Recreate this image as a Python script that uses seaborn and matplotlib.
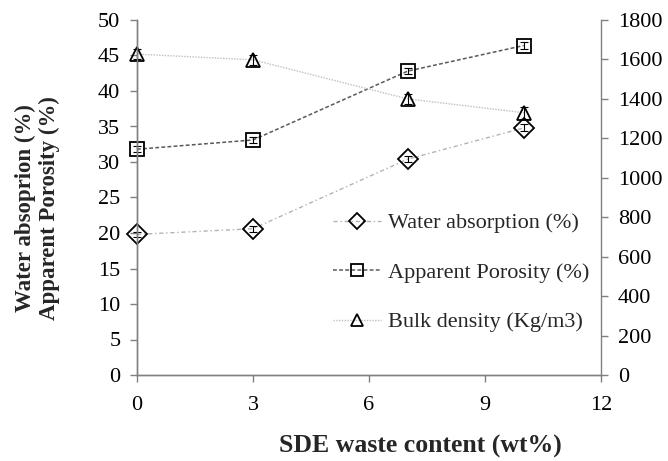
import matplotlib
matplotlib.use("Agg")
import matplotlib.pyplot as plt
import numpy as np
import seaborn as sns

# Datos
contenido = [0, 3, 7, 10]
absorcion = [19.8, 20.6, 30.4, 34.8]
absorcion_err = [0.4, 0.4, 0.4, 0.5]
porosidad = [31.8, 33.1, 42.8, 46.4]
porosidad_err = [0.4, 0.4, 0.4, 0.5]
densidad = [1627, 1598, 1400, 1330]
densidad_err = [25, 25, 25, 30]

etiquetas = ["Water absorption (%)", "Apparent Porosity (%)", "Bulk density (Kg/m3)"]

sns.set_style("ticks")
plt.rcParams['font.family'] = ['Liberation Serif', 'DejaVu Serif']

fig, ax = plt.subplots(figsize=(6.68, 4.61), dpi=100)
fig.subplots_adjust(left=137/668, right=601/668, top=1-20/461, bottom=1-375/461)
ax2 = ax.twinx()

marcadores = dict(markerfacecolor='none', markeredgecolor='black',
                  markeredgewidth=1.3, markersize=10, clip_on=False)

sns.lineplot(x=contenido, y=absorcion, ax=ax, color='0.7', linestyle=(0, (3, 2, 1, 2)),
             linewidth=1, marker='D', label=etiquetas[0], **marcadores)
sns.lineplot(x=contenido, y=porosidad, ax=ax, color='0.35', linestyle=(0, (2.5, 1.5)),
             linewidth=1.1, marker='s', label=etiquetas[1], **marcadores)
sns.lineplot(x=contenido, y=densidad, ax=ax2, color='0.75', linestyle=(0, (1, 1)),
             linewidth=1, marker='^', label=etiquetas[2], **marcadores)

for eje, y, err in ((ax, absorcion, absorcion_err), (ax, porosidad, porosidad_err),
                    (ax2, densidad, densidad_err)):
    eje.errorbar(contenido, y, yerr=err, fmt='none', ecolor='black',
                 elinewidth=0.8, capsize=3, capthick=0.8, clip_on=False)

ax.set_xlim(0, 12)
ax.set_xticks([0, 3, 6, 9, 12])
ax.set_ylim(0, 50)
ax.set_yticks(np.arange(0, 51, 5))
ax2.set_ylim(0, 1800)
ax2.set_yticks(np.arange(0, 1801, 200))

for eje in (ax, ax2):
    eje.spines['top'].set_visible(False)
    for s in ('left', 'right', 'bottom'):
        eje.spines[s].set_color('0.5')
        eje.spines[s].set_linewidth(1)
    eje.tick_params(colors='0.5', labelcolor='black', labelsize=16, length=5, width=1, pad=7)
ax.spines['right'].set_visible(False)
ax.tick_params(axis='x', pad=10)

ax.set_xlabel("SDE waste content (wt%)", fontsize=18.5, fontweight='bold')
ax.xaxis.set_label_coords(0.61, -0.168)
ax.set_ylabel("Water absoprion (%)\nApparent Porosity (%)", fontsize=16.5,
              fontweight='bold', linespacing=1.2)
ax.yaxis.set_label_coords(-0.165, 0.47)
ax2.set_ylabel("")

# Leyenda conjunta
h1, l1 = ax.get_legend_handles_labels()
h2, l2 = ax2.get_legend_handles_labels()
if ax.get_legend() is not None:
    ax.get_legend().remove()
ax2.legend(h1 + h2, l1 + l2, loc='lower right', bbox_to_anchor=(1.017, 0.064),
           frameon=False, fontsize=16, labelspacing=1.3, handlelength=2.15,
           handletextpad=0.3, markerscale=0.85)

fig.savefig("out.png", dpi=100)
